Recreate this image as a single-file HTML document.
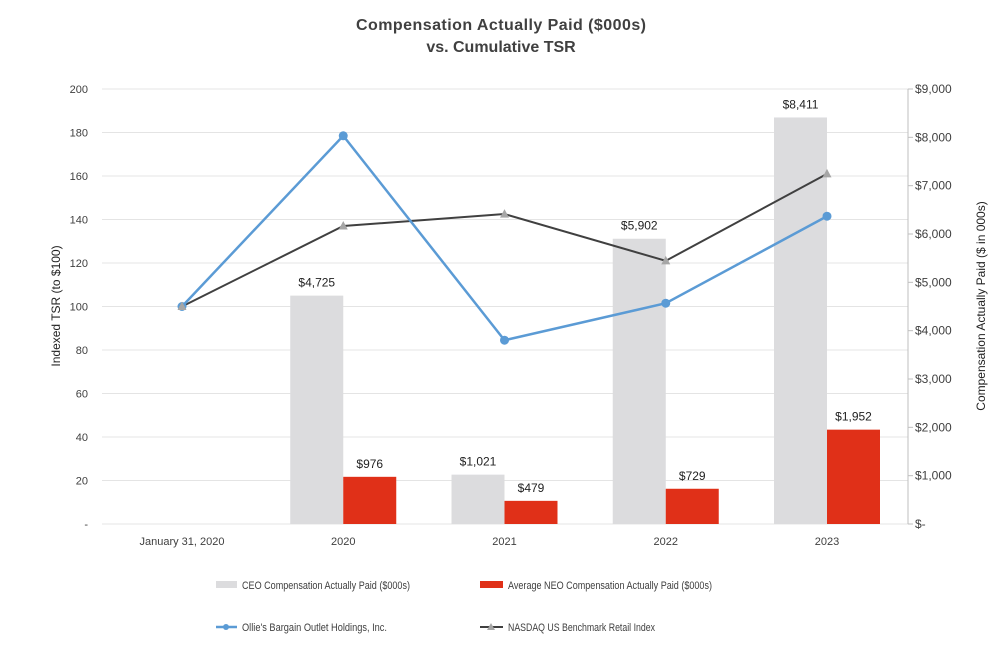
<!DOCTYPE html>
<html><head><meta charset="utf-8"><style>
body{margin:0;background:#fff;}
svg{display:block;font-family:"Liberation Sans",Arial,sans-serif;}
</style></head><body>
<svg id="c" width="1002" height="672" viewBox="0 0 1002 672">
<text x="501" y="30" text-anchor="middle" font-size="16" font-weight="bold" fill="#404040" textLength="290">Compensation Actually Paid ($000s)</text>
<text x="501" y="52" text-anchor="middle" font-size="16" font-weight="bold" fill="#404040">vs. Cumulative TSR</text>
<text transform="translate(60,306) rotate(-90)" text-anchor="middle" font-size="12" fill="#222">Indexed TSR (to $100)</text>
<text transform="translate(985,306) rotate(-90)" text-anchor="middle" font-size="12" fill="#222">Compensation Actually Paid ($ in 000s)</text>
<g id="grid"></g><g id="bars"></g><g id="lines"></g><g id="axes"></g>
<g font-size="11" fill="#404040">
<rect x="216" y="581" width="21" height="7" fill="#dcdcde"/>
<text x="242" y="589" textLength="168" lengthAdjust="spacingAndGlyphs">CEO Compensation Actually Paid ($000s)</text>
<rect x="480" y="581" width="23" height="7" fill="#e03018"/>
<text x="508" y="589" textLength="204" lengthAdjust="spacingAndGlyphs">Average NEO Compensation Actually Paid ($000s)</text>
<line x1="216" y1="627" x2="237" y2="627" stroke="#5b9bd5" stroke-width="2.5"/><circle cx="226" cy="627" r="3" fill="#5b9bd5"/>
<text x="242" y="631" textLength="145" lengthAdjust="spacingAndGlyphs">Ollie's Bargain Outlet Holdings, Inc.</text>
<line x1="480" y1="627" x2="503" y2="627" stroke="#404040" stroke-width="2"/><polygon points="491,623 495,630 487,630" fill="#a6a6a6"/>
<text x="508" y="631" textLength="147" lengthAdjust="spacingAndGlyphs">NASDAQ US Benchmark Retail Index</text>
</g>
</svg>
<script>
const categories=["January 31, 2020","2020","2021","2022","2023"];
const ceoPay=[null,4725,1021,5902,8411];
const neoPay=[null,976,479,729,1952];
const olliesTSR=[100,178.5,84.5,101.5,141.5];
const nasdaqTSR=[100,137,142.5,121,161];
const leftTicks=[0,20,40,60,80,100,120,140,160,180,200];
const rightTicks=[0,1000,2000,3000,4000,5000,6000,7000,8000,9000];
const NS="http://www.w3.org/2000/svg";
const X0=102,X1=908,Y0=524,Y1=89;
const xC=i=>182+i*161.25;
const yL=v=>Y0-(v/200)*(Y0-Y1);
const yR=v=>Y0-(v/9000)*(Y0-Y1);
function mk(tag,attrs,parent,txt){const e=document.createElementNS(NS,tag);for(const k in attrs)e.setAttribute(k,attrs[k]);if(txt!=null)e.textContent=txt;document.getElementById(parent).appendChild(e);return e;}
const fmt=v=>"$"+v.toLocaleString("en-US");
leftTicks.forEach(t=>{
  const l=mk("line",{x1:X0,x2:X1,y1:yL(t),y2:yL(t),stroke:"#e4e4e4","stroke-width":1},"grid");
  
  
  const tx=mk("text",{x:88,y:yL(t)+4,"text-anchor":"end","font-size":11,fill:"#404040"},"axes",t===0?"-":String(t));
  
  
});
mk("line",{x1:X1,x2:X1,y1:Y1,y2:Y0,stroke:"#bfbfbf"},"axes");
rightTicks.forEach(t=>{
  mk("line",{x1:X1,x2:X1+5,y1:yR(t),y2:yR(t),stroke:"#bfbfbf"},"axes");
  const tx=mk("text",{x:915,y:yR(t)+4,"font-size":12,fill:"#404040"},"axes",t===0?"$-":fmt(t));
  
  
});
categories.forEach((c,i)=>{
  const tx=mk("text",{x:xC(i),y:545,"text-anchor":"middle","font-size":11,fill:"#404040"},"axes",c);
  
  
});
const BW=53;
categories.forEach((c,i)=>{
  if(ceoPay[i]!=null){
    const r=mk("rect",{x:xC(i)-BW,y:yR(ceoPay[i]),width:BW,height:Y0-yR(ceoPay[i]),fill:"#dcdcde"},"bars");
    
    
    const t=mk("text",{x:xC(i)-BW/2,y:yR(ceoPay[i])-9,"text-anchor":"middle","font-size":12,fill:"#222"},"bars",fmt(ceoPay[i]));
    
    
  }
  if(neoPay[i]!=null){
    const r=mk("rect",{x:xC(i),y:yR(neoPay[i]),width:BW,height:Y0-yR(neoPay[i]),fill:"#e03018"},"bars");
    
    
    const t=mk("text",{x:xC(i)+BW/2,y:yR(neoPay[i])-9,"text-anchor":"middle","font-size":12,fill:"#222"},"bars",fmt(neoPay[i]));
    
    
  }
});
const pn=nasdaqTSR.map((v,i)=>xC(i)+","+yL(v)).join(" ");
const ln=mk("polyline",{points:pn,fill:"none",stroke:"#404040","stroke-width":2},"lines");


const po=olliesTSR.map((v,i)=>xC(i)+","+yL(v)).join(" ");
const lo=mk("polyline",{points:po,fill:"none",stroke:"#5b9bd5","stroke-width":2.5},"lines");


olliesTSR.forEach((v,i)=>{
  const c=mk("circle",{cx:xC(i),cy:yL(v),r:4.5,fill:"#5b9bd5"},"lines");
  
  
});
nasdaqTSR.forEach((v,i)=>{
  const x=xC(i),y=yL(v);
  const p=mk("polygon",{points:`${x},${y-5} ${x+4.5},${y+3.5} ${x-4.5},${y+3.5}`,fill:"#a6a6a6"},"lines");
  
  
});
</script>
</body></html>
